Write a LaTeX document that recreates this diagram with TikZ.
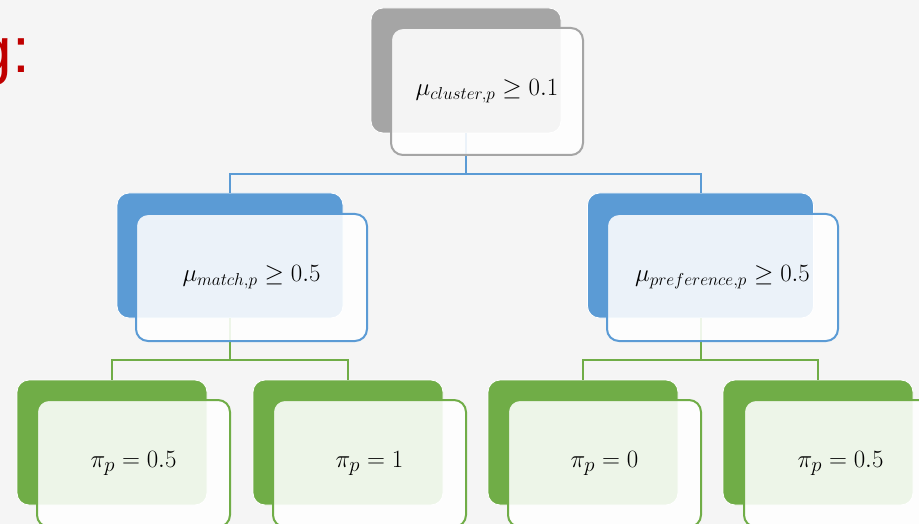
\documentclass[tikz,border=0pt]{standalone}
\usepackage{fontspec}
\usepackage{tikz}
\usetikzlibrary{positioning}
\newfontfamily\titelfont{Liberation Sans}
\DeclareMathSizes{24}{24}{18}{13}
\DeclareMathSizes{27}{27}{20}{14}
\definecolor{fundo}{HTML}{F5F5F5}
\definecolor{cinza}{HTML}{A5A5A5}
\definecolor{azul}{HTML}{5B9BD5}
\definecolor{verde}{HTML}{70AD47}
\definecolor{vermelho}{HTML}{C00000}

\begin{document}
\begin{tikzpicture}[x=1pt, y=-1pt,
    sombra/.style={rounded corners=12pt, draw=white, line width=0.8pt, inner sep=0pt,
                   minimum height=125pt},
    frente/.style={rounded corners=12pt, line width=2pt, fill=white, fill opacity=0.88,
                   text opacity=1, inner sep=0pt, minimum height=127pt,
                   font=\fontsize{24}{28}\selectfont},
    folha/.style={frente, draw=verde, minimum width=193pt, font=\fontsize{27}{32}\selectfont},
    ramo/.style={line width=2pt}
]
    \fill[fundo] (0,0) rectangle (919,524);
    \clip (0,0) rectangle (919,524);
    \node[anchor=base east, inner sep=0pt, text=vermelho, font=\titelfont\fontsize{64}{70}\selectfont] (titulo) at (30,73) {g:};

    % sombras
    \node[sombra, fill=cinza, minimum width=190pt] (raizS) at (466,70.5) {};
    \node[sombra, fill=azul, minimum width=226pt] (matchS) at (230,255.5) {};
    \node[sombra, fill=azul, minimum width=226pt] (prefS) at (700.5,255.5) {};
    \node[sombra, fill=verde, minimum width=190pt] (folhaAS) at (112,442.5) {};
    \node[sombra, fill=verde, minimum width=190pt] (folhaBS) at (348,442.5) {};
    \node[sombra, fill=verde, minimum width=190pt] (folhaCS) at (583,442.5) {};
    \node[sombra, fill=verde, minimum width=190pt] (folhaDS) at (818,442.5) {};

    % ligacoes
    \draw[ramo, azul] (raizS.south) -- ++(0,41) -| (matchS.north);
    \draw[ramo, azul] (raizS.south) -- ++(0,41) -| (prefS.north);
    \draw[ramo, verde] (matchS.south) -- ++(0,42) -| (folhaAS.north);
    \draw[ramo, verde] (matchS.south) -- ++(0,42) -| (folhaBS.north);
    \draw[ramo, verde] (prefS.south) -- ++(0,42) -| (folhaCS.north);
    \draw[ramo, verde] (prefS.south) -- ++(0,42) -| (folhaDS.north);

    % caixas da frente
    \node[frente, draw=cinza, minimum width=192pt] (raiz) at (487,91.5) {$\mu_{cluster,p} \geq 0.1$};
    \node[frente, draw=azul, minimum width=231pt] (match) at (251.5,277.5) {$\mu_{match,p} \geq 0.5$};
    \node[frente, draw=azul, minimum width=231pt] (pref) at (722.5,277.5) {$\mu_{preference,p} \geq 0.5$};
    \node[folha] (folhaA) at (133.5,463.5) {$\pi_p = 0.5$};
    \node[folha] (folhaB) at (369.5,463.5) {$\pi_p = 1$};
    \node[folha] (folhaC) at (604.5,463.5) {$\pi_p = 0$};
    \node[folha] (folhaD) at (840.5,463.5) {$\pi_p = 0.5$};
\end{tikzpicture}
\end{document}
